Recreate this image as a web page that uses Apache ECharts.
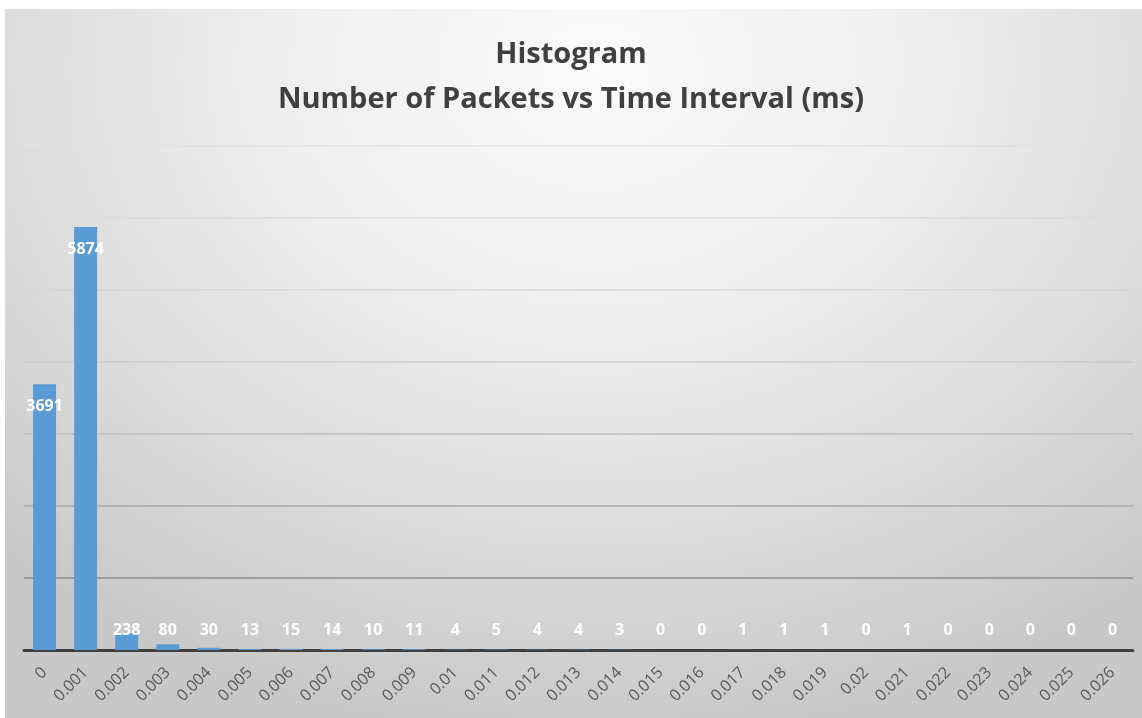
<!DOCTYPE html>
<html>
<head>
<meta charset="utf-8">
<script src="https://cdn.jsdelivr.net/npm/echarts@6/dist/echarts.min.js"></script>
<style>
html,body{margin:0;padding:0;background:#ffffff;}
#bg{position:absolute;left:5px;top:9px;width:1137px;height:709px;
  background:radial-gradient(ellipse 75% 95% at 52% 8%, #fbfbfb 0%, #f0f0f0 35%, #dcdcdc 70%, #c8c8c8 100%);}
#chart{position:absolute;left:0;top:0;width:1142px;height:718px;}
</style>
</head>
<body>
<div id="bg"></div>
<div id="chart"></div>
<script>
var titleLines = ['Histogram', 'Number of Packets vs Time Interval (ms)'];
var categories = ['0','0.001','0.002','0.003','0.004','0.005','0.006','0.007','0.008','0.009','0.01','0.011','0.012','0.013','0.014','0.015','0.016','0.017','0.018','0.019','0.02','0.021','0.022','0.023','0.024','0.025','0.026'];
var packetCounts = [3691,5874,238,80,30,13,15,14,10,11,4,5,4,4,3,0,0,1,1,1,0,1,0,0,0,0,0];

var chart = echarts.init(document.getElementById('chart'), null, {renderer:'canvas'});
chart.setOption({
  backgroundColor: 'transparent',
  animation: false,
  title: {
    text: titleLines.join('\n'),
    left: 'center',
    top: 27,
    textStyle: {
      fontFamily: 'Open Sans',
      fontWeight: 'bold',
      fontSize: 29,
      color: '#404040',
      lineHeight: 45
    }
  },
  grid: {left: 24, top: 146, width: 1109, height: 504, containLabel: false},
  xAxis: {
    type: 'category',
    data: categories,
    axisLine: {show: true, lineStyle: {color: '#404040', width: 3}},
    axisTick: {show: false},
    axisLabel: {
      rotate: 45,
      margin: 20,
      interval: 0,
      color: '#595959',
      fontFamily: 'Open Sans',
      fontSize: 16
    }
  },
  yAxis: {
    type: 'value',
    min: 0,
    max: 7000,
    interval: 1000,
    axisLine: {show: false},
    axisTick: {show: false},
    axisLabel: {show: false},
    splitLine: {
      show: true,
      lineStyle: {
        width: 1.5,
        color: ['#404040','#8c8c8c','#a9a9a9','#bcbcbc','#cdcdcd','#d6d6d6','#dddddd','#e2e2e2']
      }
    }
  },
  series: [{
    type: 'bar',
    data: packetCounts,
    barCategoryGap: '44%',
    itemStyle: {color: '#5b9bd5'},
    label: {
      show: true,
      position: 'inside',
      color: '#ffffff',
      fontFamily: 'Open Sans',
      fontWeight: 'bold',
      fontSize: 16
    },
    labelLayout: function (p) {
      var bottom = p.rect.y + p.rect.height;
      return {
        x: p.rect.x + p.rect.width / 2,
        y: Math.min(p.rect.y + 22, bottom - 20),
        align: 'center',
        verticalAlign: 'middle'
      };
    }
  }]
});
</script>
</body>
</html>
